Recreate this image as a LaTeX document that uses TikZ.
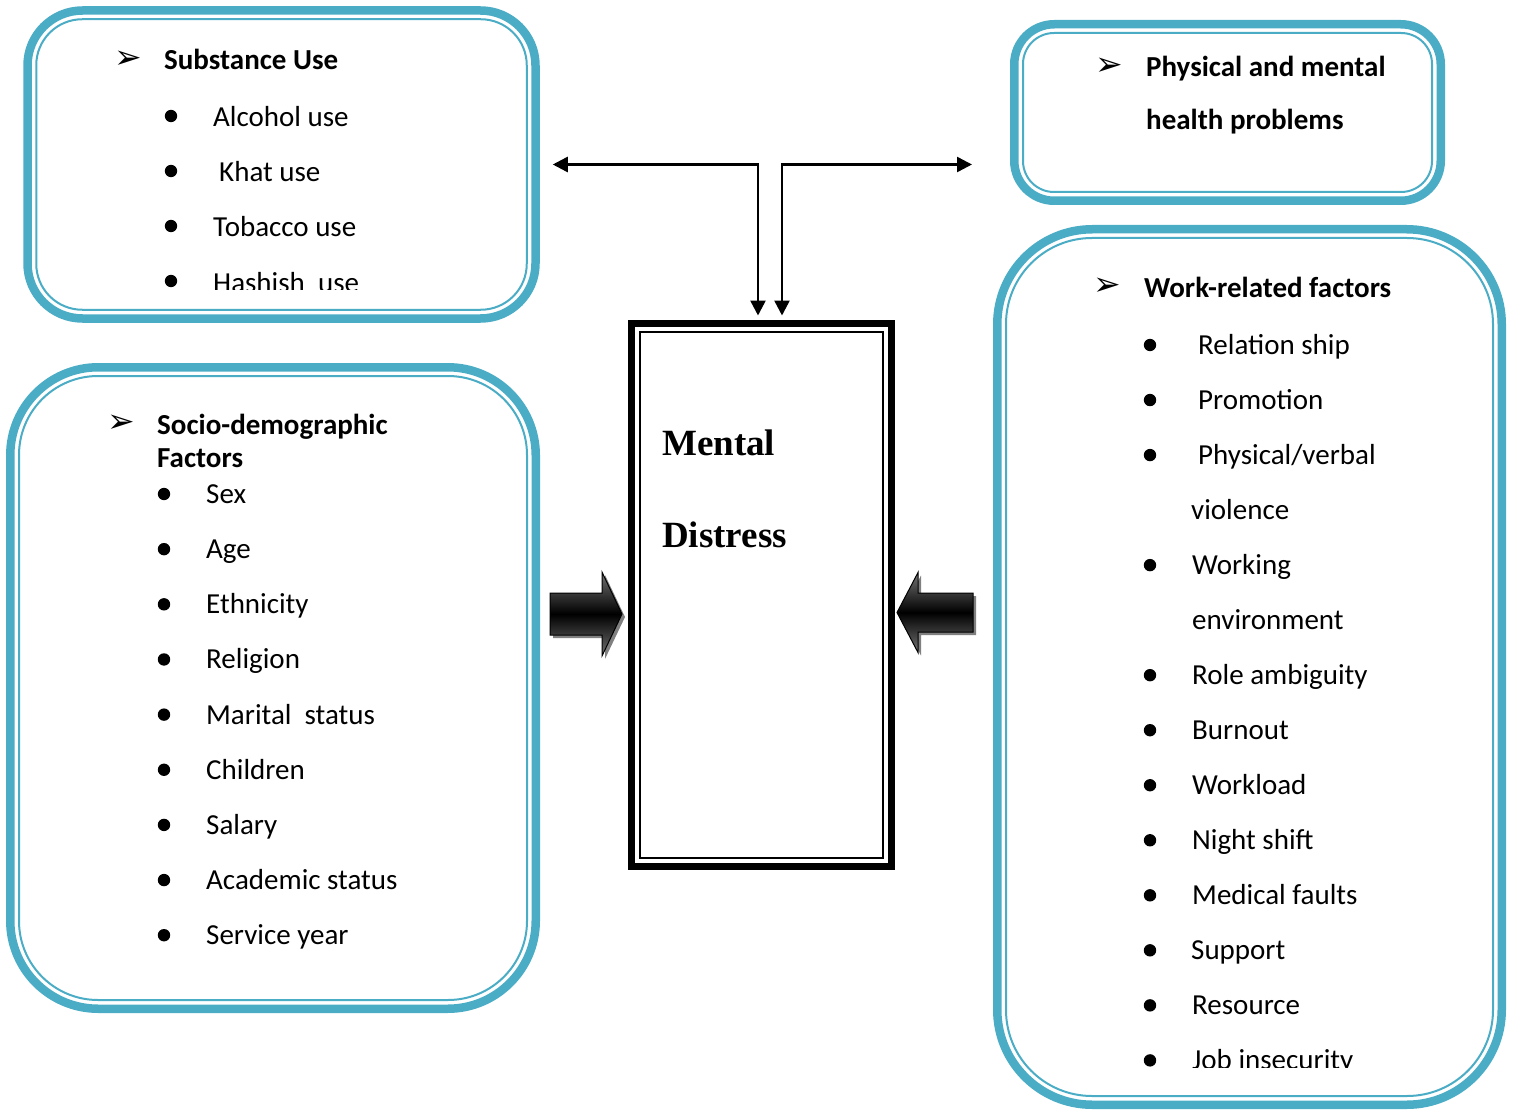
\documentclass[tikz,border=0pt]{standalone}
\usepackage{fontspec}
\setmainfont{Carlito}
\newfontfamily\distressfont{Liberation Serif}
\newfontfamily\markfont{DejaVu Sans}
\usetikzlibrary{arrows.meta, calc, shadows}
\definecolor{FrameTeal}{RGB}{75,172,198}

\begin{document}
\begin{tikzpicture}[x=1pt, y=-1pt,
    tealbox/.style={draw=FrameTeal, line width=8.5pt, inner sep=0pt},
    tealline/.style={draw=FrameTeal, line width=2pt},
    entry/.style={anchor=base west, inner sep=0pt, font=\fontsize{29}{35}\selectfont},
    entryhead/.style={anchor=base west, inner sep=0pt, font=\fontsize{29}{35}\selectfont\bfseries},
    arrowsym/.style={inner sep=0pt, font=\markfont\fontsize{33}{36}\selectfont},
    link/.style={line width=2.5pt, {Triangle[length=15pt,width=15pt]}-{Triangle[length=15pt,width=15pt]}},
    fatarrow/.style={draw=black, line width=1pt, top color=black!55, bottom color=black!55,
      middle color=black, drop shadow={shadow xshift=3pt, shadow yshift=-3pt, fill=black!50, opacity=1}}]
  \useasboundingbox (0,0) rectangle (1513,1110);

  % frames
  \node[tealbox, rounded corners=55pt, minimum width=508pt, minimum height=308pt] (subst) at (281.5,164.5) {};
  \node[tealbox, rounded corners=40pt, minimum width=426.5pt, minimum height=176.5pt] (physical) at (1227.5,112.5) {};
  \node[tealbox, rounded corners=88pt, minimum width=525.5pt, minimum height=641.5pt] (socio) at (273,688) {};
  \node[tealbox, rounded corners=95pt, minimum width=504.5pt, minimum height=875.5pt] (work) at (1249.5,667) {};
  \draw[tealline, rounded corners=46pt] ([shift={(13,13)}]subst.north west) rectangle ([shift={(-13,-13)}]subst.south east);
  \draw[tealline, rounded corners=31pt] ([shift={(13,13)}]physical.north west) rectangle ([shift={(-13,-13)}]physical.south east);
  \draw[tealline, rounded corners=79pt] ([shift={(13,13)}]socio.north west) rectangle ([shift={(-13,-13)}]socio.south east);
  \draw[tealline, rounded corners=86pt] ([shift={(13,13)}]work.north west) rectangle ([shift={(-13,-13)}]work.south east);

  % centre box
  \node[draw, line width=7pt, inner sep=0pt, minimum width=260pt, minimum height=543pt] (mental) at (761.5,595) {};
  \draw[line width=2pt] ([shift={(12,12)}]mental.north west) rectangle ([shift={(-12,-12)}]mental.south east);
  \node[anchor=base west, inner sep=0pt, font=\distressfont\fontsize{37}{40}\selectfont\bfseries] (mtxt) at (662,455) {Mental};
  \node[anchor=base west, inner sep=0pt, font=\distressfont\fontsize{37}{40}\selectfont\bfseries] (dtxt) at (662,547) {Distress};

  % substance use
  \node[arrowsym] (subarr) at (128,60) {➢};
  \node[entryhead] (subhead) at (164,70) {Substance Use};
  \foreach \i in {1,...,4}
    \fill (171,{116+55*(\i-1)}) circle (6.2);
  \begin{scope}
    \clip (150,80) rectangle (530,289);
    \foreach \txt/\xx [count=\i] in {Alcohol use/213, Khat use/219, Tobacco use/213, Hashish~~use/213}
      \node[entry] (sub-\i) at (\xx,{126.5+55.2*(\i-1)}) {\txt};
  \end{scope}

  % physical and mental
  \node[arrowsym] (phyarr) at (1109,67) {➢};
  \node[entryhead] (phyhead) at (1146,77) {Physical and mental};
  \node[entryhead] (phyhead2) at (1146,130) {health problems};

  % socio-demographic
  \node[arrowsym] (socarr) at (121,424) {➢};
  \node[entryhead] (sochead) at (157,434) {Socio-demographic};
  \node[entryhead] (sochead2) at (157,467) {Factors};
  \foreach \txt [count=\i] in {Sex, Age, Ethnicity, Religion, Marital~~status, Children, Salary, Academic status, Service year} {
    \fill (164,{494+55.15*(\i-1)}) circle (6.2);
    \node[entry] (soc-\i) at (206,{503.5+55.15*(\i-1)}) {\txt};
  }

  % work-related
  \node[arrowsym] (wrkarr) at (1107,287) {➢};
  \node[entryhead] (wrkhead) at (1144,298) {Work-related factors};
  \begin{scope}
    \clip (1120,300) rectangle (1490,1067);
    \foreach \txt/\xx/\bul [count=\i] in {Relation ship/1198/1, Promotion/1198/1, {Physical/verbal}/1198/1,
        violence/1191/0, Working/1192/1, environment/1192/0, Role ambiguity/1192/1, Burnout/1192/1,
        Workload/1192/1, Night shift/1192/1, Medical faults/1192/1, Support/1191/1, Resource/1192/1,
        Job insecurity/1192/1} {
      \ifnum\bul=1 \fill (1150,{345+55.03*(\i-1)}) circle (6.2); \fi
      \node[entry] (wrk-\i) at (\xx,{354.5+55.03*(\i-1)}) {\txt};
    }
  \end{scope}

  % connectors
  \coordinate (lvl) at (0,614);
  \coordinate (rvl) at (0,612.5);
  \draw[link, shorten <=4.5pt, shorten >=13pt] ([xshift=-3.5pt]mental.north) |- (subst.east);
  \draw[link, shorten <=4.5pt, shorten >=38pt] ([xshift=20.5pt]mental.north) |- (physical.west |- subst.east);
  \draw[fatarrow] (socio.east |- lvl) ++(10,-21) -- ++(52,0) -- ++(0,-21) -- ++(20,42)
    -- ++(-20,42) -- ++(0,-21) -- ++(-52,0) -- cycle;
  \draw[fatarrow] (work.west |- rvl) ++(-20,-19.5) -- ++(-55,0) -- ++(0,-20.5) -- ++(-21,40)
    -- ++(21,40) -- ++(0,-20.5) -- ++(55,0) -- cycle;
\end{tikzpicture}
\end{document}
